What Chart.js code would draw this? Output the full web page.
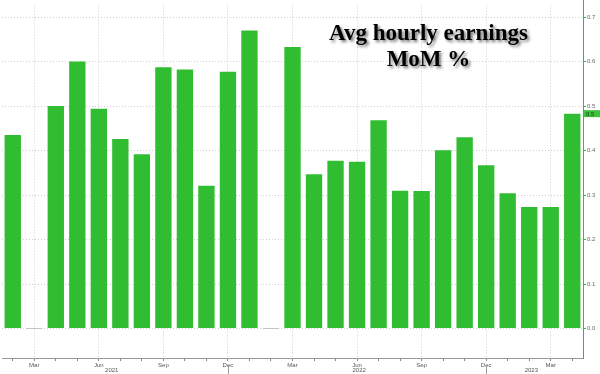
<!DOCTYPE html>
<html>
<head>
<meta charset="utf-8">
<script src="https://cdn.jsdelivr.net/npm/chart.js@4"></script>
<style>
  body { margin: 0; background: #fff; }
  #wrap { position: relative; width: 600px; height: 374px; }
  #title {
    position: absolute; left: 300px; top: 20px; width: 257px;
    text-align: center; font: bold 23px 'Liberation Serif', serif; line-height: 26px;
    color: #000; text-shadow: 2px 2px 3px rgba(0,0,0,0.55);
  }
</style>
</head>
<body>
<div id="wrap">
  <canvas id="earningsChart" width="600" height="374"></canvas>
  <div id="title">Avg hourly earnings<br>MoM %</div>
</div>
<script>
const months = [
  'Feb 2021', 'Mar 2021', 'Apr 2021', 'May 2021', 'Jun 2021', 'Jul 2021', 'Aug 2021',
  'Sep 2021', 'Oct 2021', 'Nov 2021', 'Dec 2021',
  'Jan 2022', 'Feb 2022', 'Mar 2022', 'Apr 2022', 'May 2022', 'Jun 2022', 'Jul 2022',
  'Aug 2022', 'Sep 2022', 'Oct 2022', 'Nov 2022', 'Dec 2022',
  'Jan 2023', 'Feb 2023', 'Mar 2023', 'Apr 2023'
];
const earningsMoM = [
  0.435, 0.0, 0.50, 0.60, 0.494, 0.426, 0.392, 0.587, 0.582, 0.321, 0.577,
  0.670, 0.0, 0.633, 0.347, 0.377, 0.375, 0.468, 0.310, 0.309, 0.401, 0.430, 0.367,
  0.304, 0.273, 0.273, 0.483
];
const quarterMonths = ['Mar', 'Jun', 'Sep', 'Dec'];
const years = ['2021', '2022', '2023'];
const yTicks = [0.0, 0.1, 0.2, 0.3, 0.4, 0.5, 0.6, 0.7];

const green = '#31bd31';
Chart.defaults.font.family = '"Liberation Sans", Arial, sans-serif';

function isQuarter(i) {
  return months[i] && quarterMonths.includes(months[i].split(' ')[0]);
}

// year labels, year separators, right axis line and the last-value tag
const extras = {
  id: 'extras',
  afterDraw(chart) {
    const { ctx, chartArea } = chart;
    const x = chart.scales.x, y = chart.scales.y;
    ctx.save();
    ctx.font = '6px "Liberation Sans"';
    ctx.fillStyle = '#555';
    ctx.textAlign = 'center';
    ctx.textBaseline = 'middle';
    years.forEach((yr, n) => {
      const idx = months.map((m, i) => m.endsWith(yr) ? i : -1).filter(i => i >= 0);
      const mid = (idx[0] + idx[idx.length - 1]) / 2 - 0.4;
      ctx.fillText(yr, x.getPixelForValue(mid), chartArea.bottom + 12.5);
      if (n < years.length - 1) {
        const px = Math.round(x.getPixelForValue(idx[idx.length - 1])) + 0.5;
        ctx.strokeStyle = '#999';
        ctx.lineWidth = 1;
        ctx.beginPath();
        ctx.moveTo(px, chartArea.bottom + 8);
        ctx.lineTo(px, chart.height);
        ctx.stroke();
      }
    });

    const ax = Math.round(chartArea.right) + 0.5;
    ctx.strokeStyle = green;
    ctx.lineWidth = 1;
    ctx.beginPath();
    ctx.moveTo(ax, 0);
    ctx.lineTo(ax, chartArea.bottom);
    ctx.stroke();

    const last = earningsMoM[earningsMoM.length - 1];
    const py = y.getPixelForValue(last);
    ctx.fillStyle = '#3cc23c';
    ctx.fillRect(chartArea.right + 1, py - 3.5, chart.width - chartArea.right, 7);
    ctx.fillStyle = '#1a3a1a';
    ctx.textAlign = 'left';
    ctx.fillText(last.toFixed(1), chartArea.right + 3, py + 0.5);
    ctx.restore();
  }
};

new Chart(document.getElementById('earningsChart'), {
  type: 'bar',
  data: {
    labels: months,
    datasets: [{
      data: earningsMoM,
      backgroundColor: ctx => ctx.raw === 0 ? '#c4c4c4' : green,
      borderWidth: 0,
      minBarLength: 1,
      categoryPercentage: 1,
      barPercentage: 0.76
    }]
  },
  options: {
    responsive: false,
    animation: false,
    layout: { padding: { left: 2, top: 0, right: 0, bottom: 0 } },
    plugins: {
      legend: { display: false },
      tooltip: { enabled: false }
    },
    scales: {
      x: {
        offset: true,
        grid: {
          offset: false,
          color: ctx => isQuarter(ctx.index) ? '#cfcfcf' : 'rgba(0,0,0,0)',
          tickColor: '#888',
          tickLength: 3,
          tickBorderDash: []
        },
        border: { color: '#999', dash: [1, 2] },
        ticks: {
          autoSkip: false,
          maxRotation: 0,
          padding: 1,
          color: '#555',
          font: { size: 6 },
          callback: (v, i) => isQuarter(i) ? months[i].split(' ')[0] : ''
        },
        afterFit: s => { s.height = 16; }
      },
      y: {
        position: 'right',
        min: -0.066,
        max: 0.728,
        afterBuildTicks: s => { s.ticks = yTicks.map(v => ({ value: v })); },
        grid: {
          color: '#cfcfcf',
          tickColor: green,
          tickLength: 3,
          tickBorderDash: []
        },
        border: { color: green, dash: [1, 2] },
        ticks: {
          padding: 1,
          color: '#666',
          font: { size: 6 },
          callback: v => v.toFixed(1)
        },
        afterFit: s => { s.width = 17; }
      }
    }
  },
  plugins: [extras]
});
</script>
</body>
</html>
